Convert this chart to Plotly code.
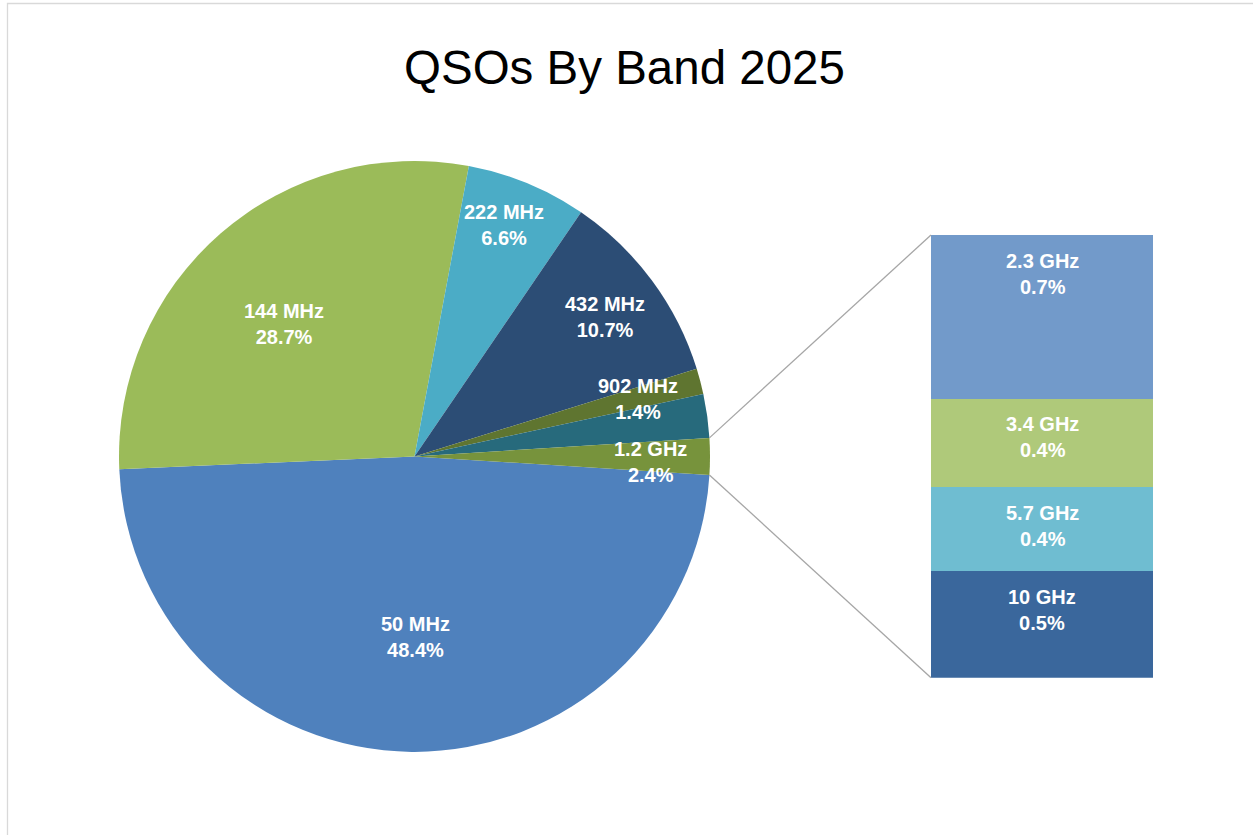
import math
import plotly.graph_objects as go

# ---------------- data ----------------
title_text = "QSOs By Band 2025"
pie_labels = ["50 MHz", "144 MHz", "222 MHz", "432 MHz", "902 MHz", "1.2 GHz"]
pie_values = [48.4, 28.7, 6.6, 10.7, 1.4, 2.4]
bar_labels = ["2.3 GHz", "3.4 GHz", "5.7 GHz", "10 GHz"]
bar_values = [0.74, 0.40, 0.38, 0.48]

# ---------------- style ----------------
pie_colors = ["#4F81BD", "#9BBB59", "#4BACC6", "#2C4D75", "#5F7530", "#276A7C"]
other_color = "#77933C"
bar_colors = ["#729ACA", "#AFC97A", "#6FBDD1", "#3A679C"]
# label placement (fraction of radius, angle offset in degrees)
label_rfrac = [0.61, 0.63, 0.84, 0.80, 0.78, 0.80]
label_dang = [0.8, 3.5, 1.3, -0.3, -0.3, -9.3]

W, H = 1253, 835
cx, cy, R = 414.5, 456.4, 295.5          # pie centre / radius in px
bx0, bx1, by0, by1 = 931, 1153, 235, 677.7  # bar box in px
FONT = "Arial, Liberation Sans, sans-serif"

other = sum(bar_values)
all_values = pie_values + [other]
total = sum(all_values)
rotation = 90 + other / total * 180.0   # centre the "other" slice at 3 o'clock

fig = go.Figure()

fig.add_trace(go.Pie(
    values=all_values,
    labels=pie_labels + ["Other"],
    marker=dict(colors=pie_colors + [other_color], line=dict(width=0)),
    sort=False,
    direction="clockwise",
    rotation=rotation,
    textinfo="none",
    hoverinfo="label+value",
    showlegend=False,
    domain=dict(x=[(cx - R) / W, (cx + R) / W], y=[1 - (cy + R) / H, 1 - (cy - R) / H]),
))

# stacked bar (bottom first)
annotations = []
cum = 0.0
for lab, val, col in reversed(list(zip(bar_labels, bar_values, bar_colors))):
    fig.add_trace(go.Bar(
        x=[0], y=[val], width=1, marker=dict(color=col, line=dict(width=0)),
        name=lab, showlegend=False, xaxis="x", yaxis="y",
        hovertemplate=f"{lab}: {val:.1f}%<extra></extra>",
    ))
    cum += val
    annotations.append(dict(
        x=0, y=cum, xref="x", yref="y", yshift=-38.5,
        text=f"{lab}<br>{val:.1f}%", showarrow=False,
        xanchor="center", yanchor="middle", align="center",
        font=dict(family=FONT, size=20, color="white", weight="bold"),
    ))

# pie labels
start = 90 - rotation
c = 0.0
for i, (lab, val) in enumerate(zip(pie_labels, pie_values)):
    mid = start - (c + val / 2) / total * 360.0 + label_dang[i]
    c += val
    a = math.radians(mid)
    px = cx + label_rfrac[i] * R * math.cos(a)
    py = cy - label_rfrac[i] * R * math.sin(a)
    annotations.append(dict(
        x=px / W, y=1 - py / H, xref="paper", yref="paper",
        text=f"{lab}<br>{val:.1f}%", showarrow=False,
        xanchor="center", yanchor="middle", align="center",
        font=dict(family=FONT, size=20, color="white", weight="bold"),
    ))

# title
annotations.append(dict(
    x=624 / W, y=1 - 67.5 / H, xref="paper", yref="paper",
    text=title_text, showarrow=False, xanchor="center", yanchor="middle",
    font=dict(family=FONT, size=47.5, color="#000000"),
))

# connector lines from "other" slice edges to the bar
half = other / total * 180.0
shapes = []
for ang, (tx, ty) in [(half, (bx0, by0)), (-half, (bx0, by1))]:
    a = math.radians(ang)
    sx = cx + R * math.cos(a)
    sy = cy - R * math.sin(a)
    shapes.append(dict(type="line", xref="paper", yref="paper",
                       x0=sx / W, y0=1 - sy / H, x1=tx / W, y1=1 - ty / H,
                       line=dict(color="#A6A6A6", width=1.3)))
# chart border
shapes.append(dict(type="rect", xref="paper", yref="paper",
                   x0=7.5 / W, y0=1 - 3.5 / H, x1=(W + 10) / W, y1=-10 / H,
                   line=dict(color="#D9D9D9", width=1.3), fillcolor="rgba(0,0,0,0)"))

fig.update_layout(
    width=W, height=H,
    margin=dict(l=0, r=0, t=0, b=0, pad=0),
    paper_bgcolor="white", plot_bgcolor="white",
    barmode="stack", bargap=0,
    xaxis=dict(domain=[bx0 / W, bx1 / W], range=[-0.5, 0.5], visible=False, fixedrange=True),
    yaxis=dict(domain=[1 - by1 / H, 1 - by0 / H], range=[0, other], visible=False, fixedrange=True),
    annotations=annotations,
    shapes=shapes,
    showlegend=False,
)

fig.write_html("out.html")
